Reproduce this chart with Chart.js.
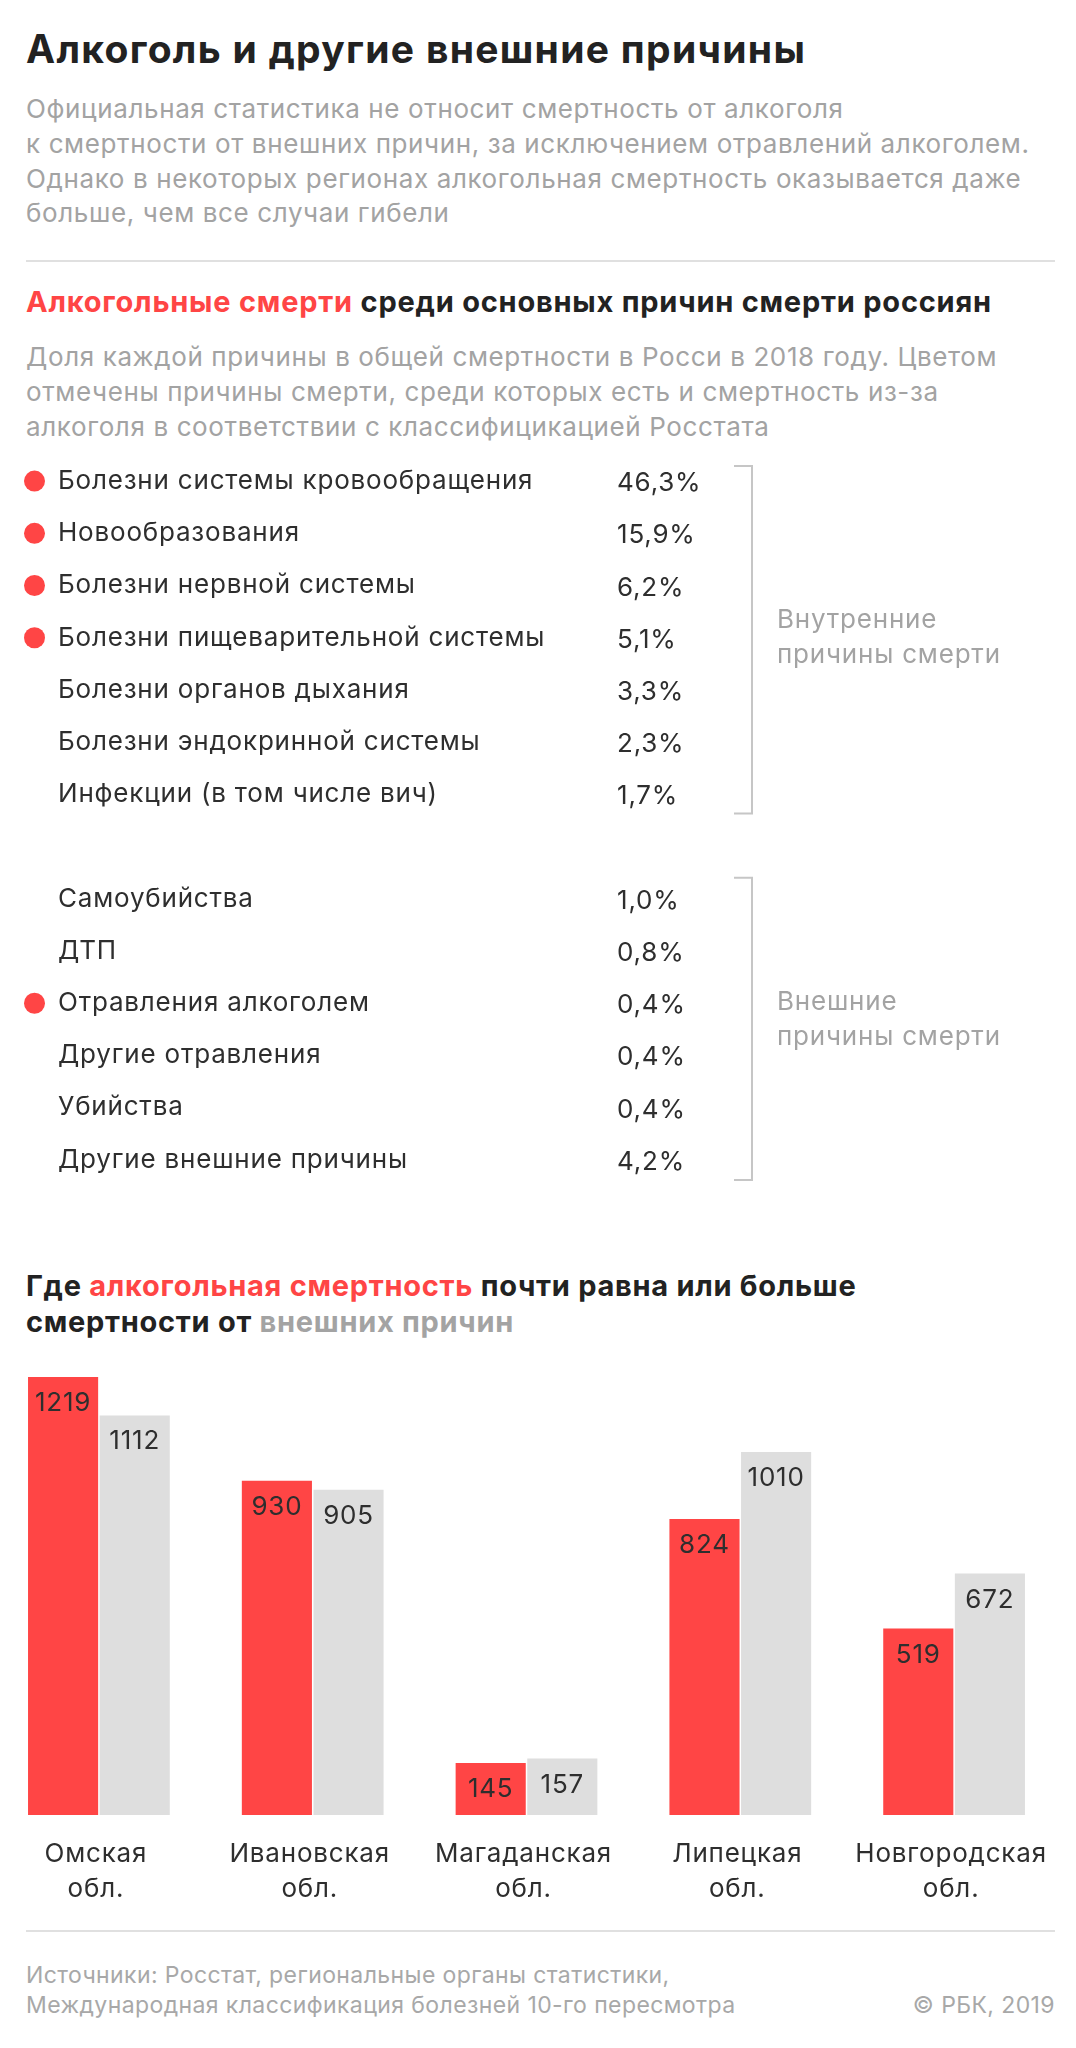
<!DOCTYPE html>
<html lang="ru">
<head>
<meta charset="utf-8">
<title>Алкоголь и другие внешние причины</title>
<script src="https://cdn.jsdelivr.net/npm/chart.js@4"></script>
<style>
html, body { margin: 0; padding: 0; background: #fff; }
#page { position: relative; width: 1076px; height: 2048px; overflow: hidden; font-family: Inter, sans-serif; color: #222; }
#page div.t { position: absolute; left: 26px; white-space: nowrap; }
.h1 { font-size: 39px; font-weight: 700; line-height: 46px; letter-spacing: 1.3px; }
.h2 { font-size: 29px; font-weight: 700; line-height: 46px; letter-spacing: 0.78px; }
.p { font-size: 26px; line-height: 34.8px; color: #a3a3a3; letter-spacing: 0.62px; }
.foot { font-size: 23px; line-height: 30px; color: #a8a8a8; letter-spacing: 0.4px; }
.red { color: #ff4545; }
.gray { color: #a3a3a3; }
.hr { position: absolute; left: 26px; width: 1029px; height: 2px; background: #e0e0e0; }
canvas { position: absolute; }
</style>
</head>
<body>
<div id="page">
  <div class="t h1" style="top:26px">Алкоголь и другие внешние причины</div>
  <div class="t p" style="top:92px">Официальная статистика не относит смертность от алкоголя<br>к смертности от внешних причин, за исключением отравлений алкоголем.<br>Однако в некоторых регионах алкогольная смертность оказывается даже<br>больше, чем все случаи гибели</div>
  <div class="hr" style="top:260px"></div>
  <div class="t h2" style="top:279px"><span class="red">Алкогольные смерти</span> среди основных причин смерти россиян</div>
  <div class="t p" style="top:340px">Доля каждой причины в общей смертности в Росси в 2018 году. Цветом<br>отмечены причины смерти, среди которых есть и смертность из-за<br>алкоголя в соответствии с классифицикацией Росстата</div>
  <canvas id="causesChart" style="left:0;top:455px" width="1076" height="731"></canvas>
  <div class="t h2" style="top:1268px;line-height:35.5px;letter-spacing:0.72px"><span>Где </span><span class="red">алкогольная смертность</span> почти равна или больше<br>смертности от <span class="gray">внешних причин</span></div>
  <canvas id="barsChart" style="left:-8px;top:1370px" width="1084" height="545"></canvas>
  <div class="hr" style="top:1930px"></div>
  <div class="t foot" style="top:1960px">Источники: Росстат, региональные органы статистики,<br>Международная классификация болезней 10-го пересмотра</div>
  <div class="t foot" style="top:1990px;left:auto;right:21px">© РБК, 2019</div>
</div>
<script>
// список причин смерти, пустая строка - разрыв между группами
var causes = [
	"Болезни системы кровообращения",
	"Новообразования",
	"Болезни нервной системы",
	"Болезни пищеварительной системы",
	"Болезни органов дыхания",
	"Болезни эндокринной системы",
	"Инфекции (в том числе вич)",
	"",
	"Самоубийства",
	"ДТП",
	"Отравления алкоголем",
	"Другие отравления",
	"Убийства",
	"Другие внешние причины"
];
var shares = ["46,3%", "15,9%", "6,2%", "5,1%", "3,3%", "2,3%", "1,7%", "", "1,0%", "0,8%", "0,4%", "0,4%", "0,4%", "4,2%"];
var alcoholCauses = ["Болезни системы кровообращения", "Новообразования", "Болезни нервной системы", "Болезни пищеварительной системы", "Отравления алкоголем"];
var internalLabel = ["Внутренние", "причины смерти"];
var externalLabel = ["Внешние", "причины смерти"];

var regions = [["Омская", "обл."], ["Ивановская", "обл."], ["Магаданская", "обл."], ["Липецкая", "обл."], ["Новгородская", "обл."]];
var alcoholDeaths = [1219, 930, 145, 824, 519];
var externalDeaths = [1112, 905, 157, 1010, 672];

var RED = "#ff4545";
var BAR_GRAY = "#dedede";
var TEXT = "#2e2e2e";
var MUTED = "#a3a3a3";
var FONT = "Inter, sans-serif";

// шрифт в оригинале шире, добавляем разрядку всему холсту
var spacing = {
	id: "spacing",
	beforeDraw: function(chart) {
		chart.ctx.letterSpacing = "0.8px";
	}
};

// доли, скобки и подписи групп рядом с точками
var listPlugin = {
	id: "listDecor",
	afterDraw: function(chart) {
		var ctx = chart.ctx;
		var y = chart.scales.y;
		ctx.save();
		ctx.font = "26px " + FONT;
		ctx.textBaseline = "alphabetic";
		ctx.fillStyle = TEXT;
		shares.forEach(function(s, i) {
			ctx.fillText(s, 617, y.getPixelForValue(i) + 10);
		});

		function bracket(from, to, dTop, dBottom) {
			var top = y.getPixelForValue(from) + dTop;
			var bottom = y.getPixelForValue(to) + dBottom;
			ctx.strokeStyle = "#c6c6c6";
			ctx.lineWidth = 2;
			ctx.beginPath();
			ctx.moveTo(734, top);
			ctx.lineTo(752, top);
			ctx.lineTo(752, bottom);
			ctx.lineTo(734, bottom);
			ctx.stroke();
		}
		bracket(0, 6, -15, 19);
		bracket(8, 13, -21, 20);

		ctx.fillStyle = MUTED;
		internalLabel.forEach(function(s, i) {
			ctx.fillText(s, 777, 173 + i * 35);
		});
		externalLabel.forEach(function(s, i) {
			ctx.fillText(s, 777, 555 + i * 35);
		});
		ctx.restore();
	}
};

// числа внутри столбцов
var barLabels = {
	id: "barLabels",
	afterDatasetsDraw: function(chart) {
		var ctx = chart.ctx;
		ctx.save();
		ctx.font = "26px " + FONT;
		ctx.textAlign = "center";
		ctx.textBaseline = "alphabetic";
		ctx.fillStyle = TEXT;
		chart.data.datasets.forEach(function(ds, d) {
			chart.getDatasetMeta(d).data.forEach(function(bar, i) {
				ctx.fillText(String(ds.data[i]), bar.x, bar.y + 34);
			});
		});
		ctx.restore();
	}
};

new Chart(document.getElementById("causesChart"), {
	type: "line",
	plugins: [spacing, listPlugin],
	data: {
		labels: ["alc"],
		datasets: [{
			label: "Есть алкогольная смертность",
			data: alcoholCauses.map(function(c) { return { x: "alc", y: c }; }),
			showLine: false,
			clip: false,
			pointRadius: 10.5,
			pointBackgroundColor: RED,
			pointBorderWidth: 0
		}]
	},
	options: {
		responsive: false,
		animation: false,
		layout: { autoPadding: false, padding: { left: 0, right: 1007, top: 0, bottom: 0 } },
		plugins: { legend: { display: false }, tooltip: { enabled: false } },
		scales: {
			x: { type: "category", labels: ["alc"], offset: true, display: false },
			y: {
				type: "category",
				labels: causes,
				offset: true,
				// подписи лежат поверх области, место под них не резервируем
				afterFit: function(scale) {
					scale.width = 0;
					scale.paddingTop = 0;
					scale.paddingBottom = 0;
				},
				border: { display: false },
				grid: { display: false },
				ticks: {
					mirror: true,
					padding: 58,
					autoSkip: false,
					color: TEXT,
					font: { family: FONT, size: 26 }
				}
			}
		}
	}
});

new Chart(document.getElementById("barsChart"), {
	type: "bar",
	plugins: [spacing, barLabels],
	data: {
		labels: regions,
		datasets: [
			{ label: "Алкогольная смертность", data: alcoholDeaths, backgroundColor: RED },
			{ label: "Смертность от внешних причин", data: externalDeaths, backgroundColor: BAR_GRAY }
		]
	},
	options: {
		responsive: false,
		animation: false,
		categoryPercentage: 0.67,
		barPercentage: 0.979,
		layout: { padding: { left: 0, right: 15, top: 7, bottom: 0 } },
		plugins: { legend: { display: false }, tooltip: { enabled: false } },
		scales: {
			y: { display: false, min: 0, max: 1219 },
			x: {
				afterFit: function(scale) { scale.height = 100; },
				border: { display: false },
				grid: { display: false },
				ticks: {
					maxRotation: 0,
					autoSkip: false,
					padding: 14,
					labelOffset: -3,
					color: TEXT,
					font: { family: FONT, size: 26, lineHeight: 1.35 }
				}
			}
		}
	}
});
</script>
</body>
</html>
